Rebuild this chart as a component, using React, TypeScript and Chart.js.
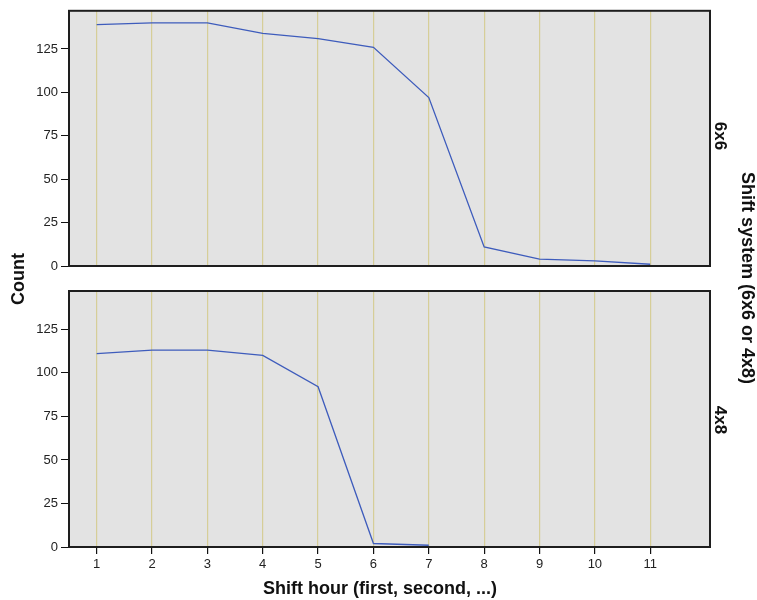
import React, { useEffect, useRef } from "react";
import { Chart, registerables } from "chart.js";

Chart.register(...registerables);

const shiftHours = [1, 2, 3, 4, 5, 6, 7, 8, 9, 10, 11];
const count6x6 = [139, 140, 140, 134, 131, 126, 97, 11, 4, 3, 1];
const hours4x8 = [1, 2, 3, 4, 5, 6, 7];
const count4x8 = [111, 113, 113, 110, 92, 2, 1];
const yTicks = [0, 25, 50, 75, 100, 125];
const xTicks = [1, 2, 3, 4, 5, 6, 7, 8, 9, 10, 11];
const panelLabels = ["6x6", "4x8"];
const xTitle = "Shift hour (first, second, ...)";
const yTitle = "Count";
const panelTitle = "Shift system (6x6 or 4x8)";

const FONT = "Arial, 'Liberation Sans', Helvetica, sans-serif";

const framePlugin = {
  id: "panelFrame",
  beforeDraw(chart: any) {
    const { ctx, chartArea } = chart;
    const { left, top, right, bottom } = chartArea;
    ctx.save();
    ctx.fillStyle = "#e3e3e3";
    ctx.fillRect(left, top, right - left, bottom - top);
    ctx.restore();
  },
  afterDraw(chart: any) {
    const { ctx, chartArea } = chart;
    const { left, top, right, bottom } = chartArea;
    ctx.save();
    ctx.strokeStyle = "#1e1e1e";
    ctx.lineWidth = 2;
    ctx.strokeRect(left, top, right - left, bottom - top);
    ctx.restore();
  },
};

function makeConfig(xs: number[], ys: number[], showX: boolean, padding: any, xHeight: number): any {
  return {
    type: "line",
    data: {
      datasets: [
        {
          data: xs.map((x, i) => ({ x, y: ys[i] })),
          borderColor: "#3e5cbc",
          borderWidth: 1.3,
          pointRadius: 0,
          tension: 0,
          fill: false,
        },
      ],
    },
    options: {
      animation: false,
      responsive: false,
      maintainAspectRatio: false,
      layout: { padding },
      plugins: { legend: { display: false }, tooltip: { enabled: false } },
      scales: {
        x: {
          type: "linear",
          min: 0.5,
          max: 12.08,
          afterBuildTicks: (scale: any) => {
            scale.ticks = xTicks.map((v) => ({ value: v }));
          },
          afterFit: (scale: any) => {
            scale.height = xHeight;
          },
          border: { display: false },
          grid: {
            color: "#d6ce98",
            lineWidth: 1.2,
            drawTicks: showX,
            tickLength: 7,
            tickColor: "#111",
          },
          ticks: {
            display: showX,
            color: "#222",
            padding: 3,
            font: { family: FONT, size: 13 },
            callback: (v: any) => String(v),
          },
        },
        y: {
          type: "linear",
          min: 0,
          max: 147,
          afterBuildTicks: (scale: any) => {
            scale.ticks = yTicks.map((v) => ({ value: v }));
          },
          afterFit: (scale: any) => {
            scale.width = 59;
          },
          border: { display: false },
          grid: {
            drawOnChartArea: false,
            drawTicks: true,
            tickLength: 8,
            tickColor: "#111",
            color: "#111",
          },
          ticks: {
            color: "#222",
            padding: 3,
            font: { family: FONT, size: 13 },
            callback: (v: any) => String(v),
          },
        },
      },
    },
    plugins: [framePlugin],
  };
}

const textBase: React.CSSProperties = {
  position: "absolute",
  fontFamily: FONT,
  fontWeight: "bold",
  color: "#111",
  whiteSpace: "nowrap",
  lineHeight: 1,
};

function rotated(text: string, cx: number, cy: number, deg: number, size: number) {
  return (
    <div
      style={{
        ...textBase,
        fontSize: size,
        left: cx,
        top: cy,
        transform: `translate(-50%, -50%) rotate(${deg}deg)`,
      }}
    >
      {text}
    </div>
  );
}

export default function App() {
  const topRef = useRef<HTMLCanvasElement>(null);
  const botRef = useRef<HTMLCanvasElement>(null);

  useEffect(() => {
    const c1 = new Chart(
      topRef.current as HTMLCanvasElement,
      makeConfig(shiftHours, count6x6, false, { left: 10, right: 47, top: 10, bottom: 14 }, 0)
    );
    const c2 = new Chart(
      botRef.current as HTMLCanvasElement,
      makeConfig(hours4x8, count4x8, true, { left: 10, right: 47, top: 11, bottom: 0 }, 53)
    );
    return () => {
      c1.destroy();
      c2.destroy();
    };
  }, []);

  return (
    <div style={{ position: "absolute", left: 0, top: 0, width: 757, height: 600, background: "#fff" }}>
      <canvas ref={topRef} width={757} height={280} style={{ position: "absolute", left: 0, top: 0, width: 757, height: 280 }} />
      <canvas ref={botRef} width={757} height={320} style={{ position: "absolute", left: 0, top: 280, width: 757, height: 320 }} />
      {rotated(yTitle, 18, 279, -90, 18)}
      {rotated(panelLabels[0], 720, 136, 90, 17)}
      {rotated(panelLabels[1], 720, 420, 90, 17)}
      {rotated(panelTitle, 748, 278, 90, 18)}
      <div style={{ ...textBase, fontSize: 18, left: 380, top: 588, transform: "translate(-50%, -50%)" }}>{xTitle}</div>
    </div>
  );
}
